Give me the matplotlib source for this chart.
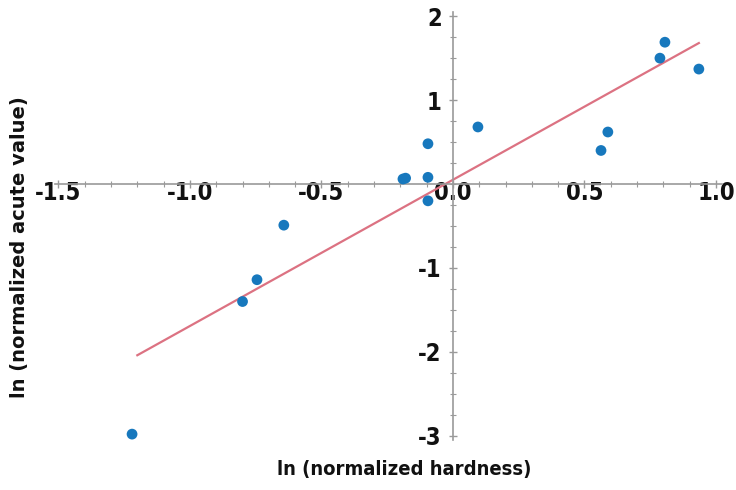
import matplotlib
matplotlib.use("Agg")
import matplotlib.pyplot as plt
from matplotlib import font_manager
from matplotlib.ticker import MultipleLocator

# points (ln normalized hardness, ln normalized acute value)
hardness = [-1.22, -0.80, -0.745, -0.643, -0.19, -0.18, -0.095, -0.095, -0.095,
            0.095, 0.563, 0.589, 0.787, 0.806, 0.935]
acute = [-2.98, -1.40, -1.14, -0.49, 0.06, 0.07, 0.48, 0.08, -0.20,
         0.68, 0.40, 0.62, 1.50, 1.69, 1.37]

# regression line end points
fit_x = [-1.20, 0.935]
fit_y = [-2.04, 1.68]

xticks = [-1.5, -1.0, -0.5, 0.0, 0.5, 1.0]
xtick_labels = ["-1.5", "-1.0", "-0.5", "0.0", "0.5", "1.0"]
yticks = [2, 1, -1, -2, -3]
ytick_labels = ["2", "1", "-1", "-2", "-3"]

# look for a condensed bold face, the reference uses a narrow one
narrow_file = None
for f in font_manager.fontManager.ttflist:
    if ("Narrow" in f.name or "Condensed" in f.name or f.stretch == "condensed") \
            and f.weight in ("bold", 700):
        narrow_file = f.fname
        break
if narrow_file:
    narrow = font_manager.FontProperties(fname=narrow_file)
else:
    narrow = font_manager.FontProperties(family="DejaVu Sans", weight="bold")

axis_grey = "#9a9a9a"

fig = plt.figure(figsize=(7.36, 4.90), dpi=100)
W, H = 736, 490
left, right, top, bottom = 55, 722, 12, 440
ax = fig.add_axes([left / W, 1 - bottom / H, (right - left) / W, (bottom - top) / H])

ax.set_xlim(-1.513, 1.023)
ax.set_ylim(-3.05, 2.05)

# axes crossing at the origin
for s in ["top", "right"]:
    ax.spines[s].set_visible(False)
ax.spines["left"].set_position(("data", 0))
ax.spines["bottom"].set_position(("data", 0))
for s in ["left", "bottom"]:
    ax.spines[s].set_color(axis_grey)
    ax.spines[s].set_linewidth(1.2)

ax.plot(fit_x, fit_y, color="#dc7282", lw=1.6, zorder=2)
ax.scatter(hardness, acute, s=60, color="#1778bd", edgecolors="none", zorder=3)

ax.set_xticks(xticks)
ax.set_xticklabels(xtick_labels)
ax.set_yticks(yticks)
ax.set_yticklabels(ytick_labels)
ax.xaxis.set_minor_locator(MultipleLocator(0.1))
ax.yaxis.set_minor_locator(MultipleLocator(0.25))
ax.tick_params(which="major", direction="inout", length=6, width=1, color=axis_grey)
ax.tick_params(which="minor", direction="inout", length=4, width=0.8, color=axis_grey)
ax.tick_params(axis="x", pad=-5)
ax.tick_params(axis="y", pad=5)

for lab in ax.get_xticklabels() + ax.get_yticklabels():
    lab.set_fontproperties(narrow)
    lab.set_fontsize(17)
    lab.set_color("#111111")

t = fig.text(404 / W, 1 - 469 / H, "ln (normalized hardness)", ha="center", va="center",
             fontproperties=narrow, color="#111111")
t.set_fontsize(14.5)
fig.text(20 / W, 1 - 247 / H, "ln (normalized acute value)", ha="center", va="center",
         rotation=90, fontsize=14, fontweight="bold", color="#111111")

fig.savefig("out.png", dpi=100)
